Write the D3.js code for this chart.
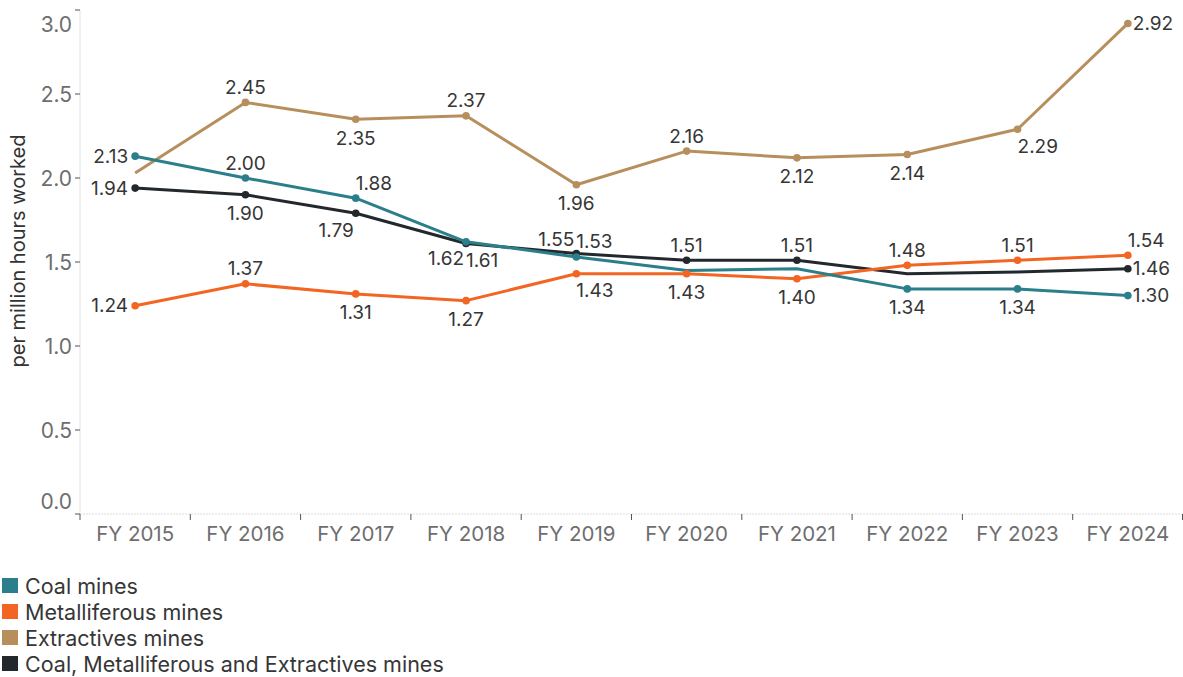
<!DOCTYPE html>
<html>
<head>
<meta charset="utf-8">
<script src="https://cdn.jsdelivr.net/npm/d3@7"></script>
<style>
  html, body { margin: 0; padding: 0; background: #fff; }
  svg { display: block; font-family: Inter, "Noto Sans", sans-serif; }
</style>
</head>
<body>
<svg id="chart" width="1183" height="677"></svg>
<script>
// Injury frequency rates, per million hours worked
const years = ["FY 2015", "FY 2016", "FY 2017", "FY 2018", "FY 2019",
               "FY 2020", "FY 2021", "FY 2022", "FY 2023", "FY 2024"];
const coalMines = [2.13, 2.00, 1.88, 1.62, 1.53, 1.45, 1.46, 1.34, 1.34, 1.30];
const metalliferousMines = [1.24, 1.37, 1.31, 1.27, 1.43, 1.43, 1.40, 1.48, 1.51, 1.54];
const extractivesMines = [2.03, 2.45, 2.35, 2.37, 1.96, 2.16, 2.12, 2.14, 2.29, 2.92];
const allMines = [1.94, 1.90, 1.79, 1.61, 1.55, 1.51, 1.51, 1.43, 1.44, 1.46];
const yTicks = [0, 0.5, 1.0, 1.5, 2.0, 2.5, 3.0];
const seriesNames = ["Coal mines", "Metalliferous mines", "Extractives mines",
                     "Coal, Metalliferous and Extractives mines"];

const colors = {
  "Coal mines": "#2b7f8b",
  "Metalliferous mines": "#f26522",
  "Extractives mines": "#b78f5d",
  "Coal, Metalliferous and Extractives mines": "#23282c"
};

// where each value label sits relative to its point (null = label suppressed)
const labelAnchors = {
  "Coal mines": ["left", "top", "top-right", "bottom-left", "top-right", null, null, "bottom", "bottom", "right"],
  "Metalliferous mines": ["left", "top", "bottom", "bottom", "bottom-right", "bottom", "bottom", "top", "top", "top-right"],
  "Extractives mines": [null, "top", "bottom", "top", "bottom", "top", "bottom", "bottom", "bottom-right", "right"],
  "Coal, Metalliferous and Extractives mines": ["left", "bottom", "bottom-left", "bottom-right", "top-left", "top", "top", null, null, "right"]
};

const series = [
  { name: seriesNames[3], values: allMines },
  { name: seriesNames[2], values: extractivesMines },
  { name: seriesNames[1], values: metalliferousMines },
  { name: seriesNames[0], values: coalMines }
];

const svg = d3.select("#chart");
const plotLeft = 80, plotRight = 1183, plotTop = 10, plotBottom = 514;

const x = d3.scaleBand().domain(years).range([plotLeft, plotRight]).padding(0);
const y = d3.scaleLinear().domain([0, 3]).range([plotBottom, plotTop]);
const cx = d => x(d) + x.bandwidth() / 2;

// y axis
const yAxis = svg.append("g");
yAxis.append("line")
  .attr("x1", plotLeft).attr("x2", plotLeft).attr("y1", plotTop).attr("y2", plotBottom)
  .attr("stroke", "#e2e2e2").attr("stroke-width", 1);
yAxis.selectAll("line.tick").data(yTicks).join("line")
  .attr("class", "tick")
  .attr("x1", plotLeft - 5).attr("x2", plotLeft)
  .attr("y1", d => y(d)).attr("y2", d => y(d))
  .attr("stroke", "#555").attr("stroke-width", 1);
yAxis.selectAll("text").data(yTicks).join("text")
  .attr("x", plotLeft - 8)
  .attr("y", d => d === 3 ? y(d) + 14 : d === 0 ? y(d) - 13 : y(d))
  .attr("text-anchor", "end")
  .attr("dominant-baseline", "central")
  .attr("font-size", 21)
  .attr("fill", "#6e6e6e")
  .text(d => d3.format(".1f")(d));

svg.append("text")
  .attr("transform", `translate(18,251) rotate(-90)`)
  .attr("text-anchor", "middle")
  .attr("dominant-baseline", "central")
  .attr("font-size", 20)
  .attr("fill", "#333")
  .text("per million hours worked");

// x axis
const xAxis = svg.append("g");
xAxis.append("line")
  .attr("x1", plotLeft).attr("x2", plotRight).attr("y1", plotBottom).attr("y2", plotBottom)
  .attr("stroke", "#dcdcdc").attr("stroke-width", 1).attr("stroke-dasharray", "2,1");
const boundaries = years.map(d => x(d)).concat([x(years[years.length - 1]) + x.bandwidth()]);
xAxis.selectAll("line.tick").data(boundaries).join("line")
  .attr("class", "tick")
  .attr("x1", d => Math.min(d, plotRight - 0.5)).attr("x2", d => Math.min(d, plotRight - 0.5))
  .attr("y1", plotBottom).attr("y2", plotBottom + 6)
  .attr("stroke", "#555").attr("stroke-width", 1);
xAxis.selectAll("text").data(years).join("text")
  .attr("x", d => cx(d))
  .attr("y", plotBottom + 19)
  .attr("text-anchor", "middle")
  .attr("dominant-baseline", "central")
  .attr("font-size", 20.5)
  .attr("fill", "#6e6e6e")
  .text(d => d);

// lines
const line = d3.line().x((d, i) => cx(years[i])).y(d => y(d));
svg.append("g").selectAll("path").data(series).join("path")
  .attr("d", s => line(s.values))
  .attr("fill", "none")
  .attr("stroke", s => colors[s.name])
  .attr("stroke-width", 3)
  .attr("stroke-linejoin", "round");

// points and value labels
const anchorSpec = {
  "top":          { dx: 0,  dy: -15, anchor: "middle" },
  "bottom":       { dx: 0,  dy: 19,  anchor: "middle" },
  "left":         { dx: -7, dy: 0,   anchor: "end" },
  "right":        { dx: 5,  dy: 0,   anchor: "start" },
  "top-right":    { dx: 0,  dy: -15, anchor: "start" },
  "top-left":     { dx: -2, dy: -14, anchor: "end" },
  "bottom-right": { dx: 0,  dy: 17,  anchor: "start" },
  "bottom-left":  { dx: -2, dy: 17,  anchor: "end" }
};

const pts = [];
series.forEach(s => s.values.forEach((v, i) => {
  const a = labelAnchors[s.name][i];
  if (a) pts.push({ name: s.name, year: years[i], value: v, anchor: a });
}));

const gp = svg.append("g");
gp.selectAll("circle").data(pts).join("circle")
  .attr("cx", d => cx(d.year))
  .attr("cy", d => y(d.value))
  .attr("r", 3.8)
  .attr("fill", d => colors[d.name]);

gp.selectAll("text").data(pts).join("text")
  .attr("x", d => cx(d.year) + anchorSpec[d.anchor].dx)
  .attr("y", d => y(d.value) + anchorSpec[d.anchor].dy)
  .attr("text-anchor", d => anchorSpec[d.anchor].anchor)
  .attr("dominant-baseline", "central")
  .attr("font-size", 19)
  .attr("fill", "#363636")
  .text(d => d3.format(".2f")(d.value));

// legend
const legend = svg.append("g");
const rows = legend.selectAll("g").data(seriesNames).join("g")
  .attr("transform", (d, i) => `translate(0,${586 + i * 26})`);
rows.append("rect")
  .attr("x", 2).attr("y", -8).attr("width", 16).attr("height", 15)
  .attr("fill", d => colors[d]);
rows.append("text")
  .attr("x", 25).attr("y", 0)
  .attr("dominant-baseline", "central")
  .attr("font-size", 21.5)
  .attr("fill", "#363636")
  .text(d => d);
</script>
</body>
</html>
